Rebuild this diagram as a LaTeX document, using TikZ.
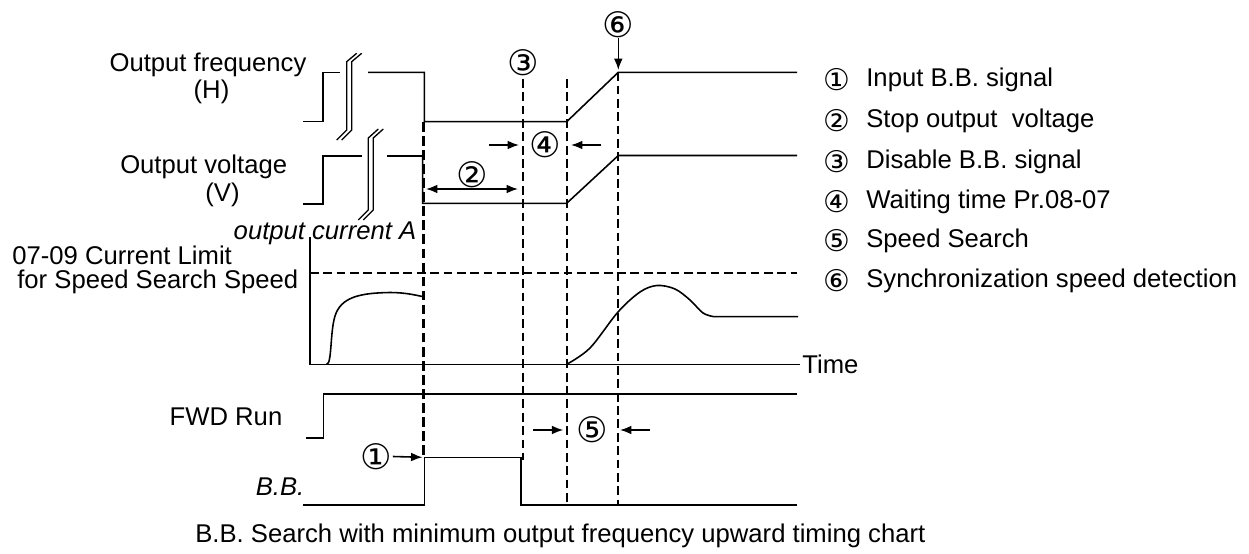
\documentclass[tikz,border=0pt]{standalone}
\usepackage{fontspec}
\setmainfont{Liberation Sans}
\newfontfamily\circfont{DejaVu Sans}
\usetikzlibrary{arrows.meta}
\begin{document}
\begin{tikzpicture}[x=0.02cm,y=-0.02cm,
 wave/.style={line width=0.9pt},
 brk/.style={line width=0.75pt},
 thickdash/.style={line width=1.6pt, dash pattern=on 5.5pt off 2.5pt},
 thindash/.style={line width=1pt, dash pattern=on 5pt off 2.6pt},
 lbl/.style={font=\fontsize{14.6}{17}\selectfont, inner sep=0pt},
 ilbl/.style={font=\fontsize{14.6}{17}\selectfont\itshape, inner sep=0pt},
 circ/.style={font=\circfont\fontsize{20}{22}\selectfont, inner sep=0pt},
 lcirc/.style={font=\circfont\fontsize{17}{19}\selectfont, inner sep=0pt},
 arr/.style={line width=0.9pt, -{Latex[length=6.5pt,width=5pt]}},
 darr/.style={line width=0.9pt, {Latex[length=6.5pt,width=5pt]}-{Latex[length=6.5pt,width=5pt]}},
]
\useasboundingbox (0,0) rectangle (1249,554);

% ---------- left labels ----------
\node[lbl] (lf) at (208,65) {Output frequency};
\node[lbl] (lh) at (211.5,92) {(H)};
\node[lbl] (lv) at (203.7,166.7) {Output voltage};
\node[lbl] (lvv) at (222.5,195) {(V)};
\node[ilbl] (lc) at (325,233) {output current A};
\node[lbl,anchor=west] (ll1) at (12,255) {07-09 Current Limit};
\node[lbl,anchor=west] (ll2) at (17,281.7) {for Speed Search Speed};
\node[lbl] (lfwd) at (226,417.3) {FWD Run};
\node[ilbl] (lbb) at (280,486.7) {B.B.};
\node[lbl,anchor=west] (ltime) at (802,364.3) {Time};
\node[lbl,anchor=west] (cap) at (195,536) {B.B. Search with minimum output frequency upward timing chart};

% ---------- output frequency ----------
\draw[wave] (303,121.7) -- (323,121.7) -- (323,72.3) -- (340,72.3);
\draw[wave] (368,72.3) -- (424.3,72.3) -- (424.3,121.7) -- (566.7,121.7) -- (618.3,72.3) -- (797,72.3);
\draw[brk] (336.7,140) -- (346.7,130) -- (346.7,61.7) -- (356.7,53.3);
\draw[brk] (341.7,140) -- (351.7,130) -- (351.7,61.7) -- (361.7,53.3);

% ---------- output voltage ----------
\draw[wave] (303,204) -- (323,204) -- (323,156) -- (362,156);
\draw[wave] (387,156) -- (422.7,156) -- (422.7,203.3) -- (566.7,203.3) -- (618.3,155.5) -- (797,155.5);
\draw[brk] (358.3,220) -- (368.3,210) -- (368.3,138) -- (378.3,129);
\draw[brk] (363.3,220) -- (373.3,210) -- (373.3,138) -- (383.3,129);

% ---------- output current ----------
\draw[wave] (310,237) -- (310,364.3) -- (800,364.3);
\draw[thindash] (310,273.3) -- (797,273.3);
\draw[wave] (326.7,364.3) .. controls (332,364) and (330,332) .. (335,316)
  .. controls (341,297) and (360,293) .. (390,292.5)
  .. controls (405,292.5) and (415,295) .. (423.3,296.7);
\draw[wave] plot[smooth, tension=0.55] coordinates {(566.7,364.3) (590,348) (618,312) (640,292) (657,285.5) (675,289) (690,300) (703,313) (714,316.7)} -- (798,316.7);

% ---------- FWD run ----------
\draw[wave] (306,438) -- (323.3,438) -- (323.3,394) -- (797,394);

% ---------- B.B. ----------
\draw[wave] (303.3,505) -- (424.3,505) -- (424.3,457.3) -- (521,457.3) -- (521,505) -- (797,505);

% ---------- dashed markers ----------
\draw[thickdash] (423.5,122) -- (423.5,457);
\draw[thindash] (523.3,79) -- (523.3,460);
\draw[thindash] (566.7,79) -- (566.7,505);
\draw[thindash] (618.3,72.3) -- (618.3,505);

% ---------- numbered marks ----------
\node[circ] (c6) at (618.3,25) {⑥};
\coordinate (c6e) at (618.3,70);
\draw[arr] (c6) -- (c6e);
\node[circ] (c3) at (523.3,63) {③};
\node[circ] (c4) at (545,145) {④};
\coordinate (a4s) at (489,145); \coordinate (a4e) at (519,145);
\coordinate (b4s) at (601,145); \coordinate (b4e) at (571,145);
\draw[arr] (a4s) -- (a4e);
\draw[arr] (b4s) -- (b4e);
\node[circ] (c2) at (472,175) {②};
\coordinate (d2s) at (426,189); \coordinate (d2e) at (518,189);
\draw[darr] (d2s) -- (d2e);
\node[circ] (c5) at (592.3,430) {⑤};
\coordinate (a5s) at (533.3,430); \coordinate (a5e) at (563.3,430);
\coordinate (b5s) at (650,430); \coordinate (b5e) at (620,430);
\draw[arr] (a5s) -- (a5e);
\draw[arr] (b5s) -- (b5e);
\node[circ] (c1) at (376.7,456.5) {①};
\coordinate (a1e) at (422.5,457.3);
\draw[arr] (c1.east) -- (a1e);

% ---------- legend ----------
\foreach \n/\y/\t in {1/80/Input B.B. signal, 2/121/Stop output\ \ voltage, 3/162/Disable B.B. signal, 4/202/Waiting time Pr.08-07, 5/241/Speed Search, 6/281/Synchronization speed detection}{
  \node[lcirc] (g\n) at (837,\y) {\ifcase\n\or ①\or ②\or ③\or ④\or ⑤\or ⑥\fi};
  \node[lbl,anchor=west] (t\n) at (866,\y) {\t};
}
\end{tikzpicture}
\end{document}
